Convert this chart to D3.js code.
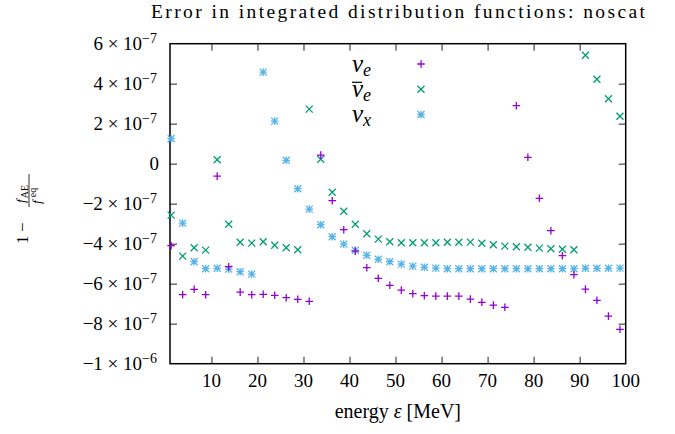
<!DOCTYPE html>
<html>
<head>
<meta charset="utf-8">
<script src="https://cdn.jsdelivr.net/npm/d3@7/dist/d3.min.js"></script>
<style>
  html, body { margin: 0; padding: 0; background: #fff; }
  svg { display: block; }
</style>
</head>
<body>
<svg id="chart" width="675" height="434"></svg>
<script>
// Energy grid [MeV]
const energies = [1.25, 3.75, 6.25, 8.75, 11.25, 13.75, 16.25, 18.75, 21.25, 23.75,
  26.25, 28.75, 31.25, 33.75, 36.25, 38.75, 41.25, 43.75, 46.25, 48.75,
  51.25, 53.75, 56.25, 58.75, 61.25, 63.75, 66.25, 68.75, 71.25, 73.75,
  76.25, 78.75, 81.25, 83.75, 86.25, 88.75, 91.25, 93.75, 96.25, 98.75];

// 1 - f_AE / f_eq, in units of 1e-7
const nuE = [-4.10, -6.55, -6.28, -6.55, -0.62, -5.15, -6.42, -6.55, -6.53, -6.58,
  -6.70, -6.78, -6.88, 0.43, -1.85, -3.30, -4.37, -5.20, -5.73, -6.08,
  -6.32, -6.50, -6.60, -6.62, -6.62, -6.62, -6.77, -6.93, -7.07, -7.18,
  2.90, 0.32, -1.73, -3.35, -4.60, -5.55, -6.27, -6.83, -7.62, -8.28];
const nuEbar = [-2.57, -4.62, -4.20, -4.32, 0.20, -3.03, -3.93, -3.97, -3.90, -4.08,
  -4.20, -4.30, 2.73, 0.22, -1.43, -2.38, -3.03, -3.50, -3.77, -3.90,
  -3.95, -3.95, -3.95, -3.95, -3.93, -3.93, -3.92, -3.98, -4.05, -4.12,
  -4.15, -4.18, -4.22, -4.25, -4.28, -4.30, 5.42, 4.22, 3.25, 2.37];
const nuX = [1.25, -2.97, -4.90, -5.25, -5.23, -5.27, -5.40, -5.52, 4.58, 2.13,
  0.17, -1.25, -2.27, -3.05, -3.65, -4.02, -4.33, -4.58, -4.78, -4.90,
  -5.02, -5.12, -5.18, -5.22, -5.25, -5.25, -5.25, -5.25, -5.25, -5.25,
  -5.25, -5.25, -5.25, -5.25, -5.25, -5.25, -5.23, -5.23, -5.23, -5.22];
const valueUnit = 1e-7;

// Axis ticks
const xTicks = [10, 20, 30, 40, 50, 60, 70, 80, 90, 100];
const yTicks = [-10e-7, -8e-7, -6e-7, -4e-7, -2e-7, 0, 2e-7, 4e-7, 6e-7];
const yTickMantissa = ["\u22121", "\u22128", "\u22126", "\u22124", "\u22122", "0", "2", "4", "6"];
const yTickExponent = ["\u22126", "\u22127", "\u22127", "\u22127", "\u22127", "", "\u22127", "\u22127", "\u22127"];

const seriesColors = { nuE: "#9400d3", nuEbar: "#009e73", nuX: "#56b4e9" };
const seriesShapes = { nuE: "plus", nuEbar: "cross", nuX: "star" };
const seriesValues = { nuE: nuE, nuEbar: nuEbar, nuX: nuX };

const FONT = "'Liberation Serif', 'DejaVu Serif', serif";
const svg = d3.select("#chart").attr("font-family", FONT);
const plotLeft = 170, plotRight = 625.7, plotTop = 43.7, plotBottom = 363.7;

const x = d3.scaleLinear().domain([1, 100]).range([plotLeft, plotRight]);
const y = d3.scaleLinear().domain([-10e-7, 6e-7]).range([plotBottom, plotTop]);

// Title
svg.append("text")
  .attr("x", 151).attr("y", 17.5)
  .attr("font-size", 19.5)
  .attr("textLength", 494).attr("lengthAdjust", "spacing")
  .text("Error in integrated distribution functions: noscat");

// Inward ticks on all four sides
const tickLen = 7;
const tickColor = "#555";
const xInner = xTicks.filter(v => v < 100);
const yInner = yTicks.slice(1, -1);
const xAxisB = d3.axisBottom(x).tickValues(xInner).tickSize(-tickLen).tickFormat("");
const xAxisT = d3.axisTop(x).tickValues(xInner).tickSize(-tickLen).tickFormat("");
const yAxisL = d3.axisLeft(y).tickValues(yInner).tickSize(-tickLen).tickFormat("");
const yAxisR = d3.axisRight(y).tickValues(yInner).tickSize(-tickLen).tickFormat("");

function styleAxis(g) {
  g.select(".domain").remove();
  g.selectAll(".tick line").attr("stroke", tickColor).attr("stroke-width", 1.3);
}
svg.append("g").attr("transform", `translate(0,${plotBottom})`).call(xAxisB).call(styleAxis);
svg.append("g").attr("transform", `translate(0,${plotTop})`).call(xAxisT).call(styleAxis);
svg.append("g").attr("transform", `translate(${plotLeft},0)`).call(yAxisL).call(styleAxis);
svg.append("g").attr("transform", `translate(${plotRight},0)`).call(yAxisR).call(styleAxis);

// Frame
svg.append("rect")
  .attr("x", plotLeft).attr("y", plotTop)
  .attr("width", plotRight - plotLeft).attr("height", plotBottom - plotTop)
  .attr("fill", "none").attr("stroke", "#000").attr("stroke-width", 1.5);

// X tick labels
svg.append("g").selectAll("text").data(xTicks).join("text")
  .attr("x", d => x(d)).attr("y", 387)
  .attr("text-anchor", "middle").attr("font-size", 19)
  .text(d => d);

// Y tick labels: mantissa x 10^exponent
const yLab = svg.append("g").selectAll("text").data(yTicks).join("text")
  .attr("x", (d, i) => yTickExponent[i] ? 157 : 159)
  .attr("y", d => y(d) + 6.5)
  .attr("text-anchor", "end").attr("font-size", 19);
yLab.each(function (d, i) {
  const t = d3.select(this);
  if (!yTickExponent[i]) { t.text(yTickMantissa[i]); return; }
  t.append("tspan").text(yTickMantissa[i] + " \u00d7 10");
  t.append("tspan").attr("dy", -7).attr("font-size", 14).text(yTickExponent[i]);
});

// X axis title
const xt = svg.append("text")
  .attr("x", (plotLeft + plotRight) / 2).attr("y", 418)
  .attr("text-anchor", "middle").attr("font-size", 20);
xt.append("tspan").text("energy ");
xt.append("tspan").attr("font-style", "italic").text("\u03b5");
xt.append("tspan").text(" [MeV]");

// Y axis title: 1 - f_AE / f^eq, rotated
const yt = svg.append("g").attr("transform", "translate(29,204) rotate(-90)");
yt.append("text").attr("x", -40).attr("y", -1.5).attr("font-size", 17).text("1");
yt.append("text").attr("x", -28).attr("y", -1.5).attr("font-size", 17).text("\u2212");
const num = yt.append("text").attr("x", 1).attr("y", -4).attr("font-size", 13.5);
num.append("tspan").attr("font-style", "italic").text("f");
num.append("tspan").attr("dx", 1).attr("dy", 3).attr("font-size", 10).text("AE");
yt.append("line").attr("x1", -3).attr("x2", 30).attr("y1", 0).attr("y2", 0)
  .attr("stroke", "#000").attr("stroke-width", 0.8);
const den = yt.append("text").attr("x", 0).attr("y", 11.5).attr("font-size", 13.5);
den.append("tspan").attr("font-style", "italic").text("f");
den.append("tspan").attr("dx", 3).attr("dy", -5).attr("font-size", 10).text("eq");

// Marker shapes
const half = 3.8;
function markerPath(shape) {
  const h = half, d = half * 0.92;
  const plus = `M${-h},0L${h},0M0,${-h}L0,${h}`;
  const cross = `M${-d},${-d}L${d},${d}M${-d},${d}L${d},${-d}`;
  if (shape === "plus") return plus;
  if (shape === "cross") return cross;
  return plus + cross;
}

// Data points (drawn so the first key entry ends on top)
["nuX", "nuEbar", "nuE"].forEach(name => {
  const vals = seriesValues[name];
  svg.append("g").selectAll("path").data(energies).join("path")
    .attr("transform", (e, i) => `translate(${x(e)},${y(vals[i] * valueUnit)})`)
    .attr("d", markerPath(seriesShapes[name]))
    .attr("fill", "none")
    .attr("stroke", seriesColors[name])
    .attr("stroke-width", 1.3);
});

// Key
const keyLabels = [
  { name: "nuE", base: "\u03bd", sub: "e", bar: false },
  { name: "nuEbar", base: "\u03bd", sub: "e", bar: true },
  { name: "nuX", base: "\u03bd", sub: "x", bar: false }
];
const keyY = [64, 89.3, 114.5];
const key = svg.append("g");
keyLabels.forEach((k, i) => {
  const t = key.append("text")
    .attr("x", 371).attr("y", keyY[i] + 7.5)
    .attr("text-anchor", "end").attr("font-size", 25).attr("font-style", "italic");
  t.append("tspan").text(k.base);
  t.append("tspan").attr("dy", 4).attr("font-size", 18).text(k.sub);
  if (k.bar) {
    key.append("line")
      .attr("x1", 352).attr("x2", 362)
      .attr("y1", keyY[i] - 7).attr("y2", keyY[i] - 7)
      .attr("stroke", "#000").attr("stroke-width", 1.2);
  }
  key.append("path")
    .attr("transform", `translate(421,${keyY[i]})`)
    .attr("d", markerPath(seriesShapes[k.name]))
    .attr("fill", "none")
    .attr("stroke", seriesColors[k.name])
    .attr("stroke-width", 1.3);
});
</script>
</body>
</html>
